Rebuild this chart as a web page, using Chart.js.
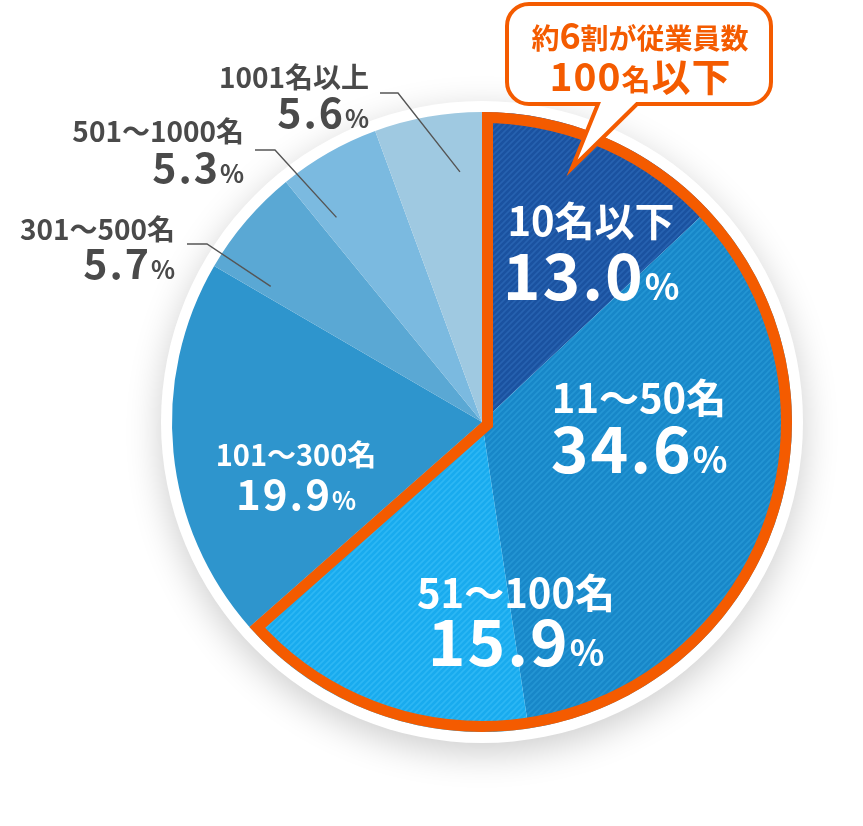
<!DOCTYPE html>
<html>
<head>
<meta charset="utf-8">
<script src="https://cdn.jsdelivr.net/npm/chart.js@4/dist/chart.umd.min.js"></script>
<style>
html,body{margin:0;padding:0;background:#fff;}
#wrap{position:relative;width:863px;height:826px;}
canvas{display:block;}
</style>
</head>
<body>
<div id="wrap"><canvas id="c" width="863" height="826"></canvas></div>
<script>
// ---- data ----
const categories = ['10名以下', '11〜50名', '51〜100名', '101〜300名', '301〜500名', '501〜1000名', '1001名以上'];
const shares = [13.0, 34.6, 15.9, 19.9, 5.7, 5.3, 5.6];
const highlightCount = 3; // slices grouped by the orange outline (100名以下)
const calloutLine1 = [['約', 'n'], ['6', 'b'], ['割が従業員数', 'n']];
const calloutLine2 = [['100', 'b'], ['名', 'n'], ['以下', 'b']];

// ---- styles ----
const FONT = '"Noto Sans CJK JP", "Noto Sans", sans-serif';
const ORANGE = '#f45b00';
const DARK = '#4a4a4a';
const baseColors = ['#1b52a0', '#1887c8', '#19abee', '#2e95cd', '#5aa8d4', '#7bbae0', '#9fc9e1'];
const stripeColors = ['#2762b0', '#2495d3', '#2db7f4', null, null, null, null];

function stripe(base, line) {
  const c = document.createElement('canvas');
  c.width = c.height = 6;
  const x = c.getContext('2d');
  x.fillStyle = base; x.fillRect(0, 0, 6, 6);
  x.strokeStyle = line; x.lineWidth = 1.6;
  x.beginPath();
  x.moveTo(-1, 7); x.lineTo(7, -1);
  x.moveTo(-1, 1); x.lineTo(1, -1);
  x.moveTo(5, 7); x.lineTo(7, 5);
  x.stroke();
  return x.createPattern(c, 'repeat');
}
const fills = baseColors.map((b, i) => stripeColors[i] ? stripe(b, stripeColors[i]) : b);

// label layout, offsets relative to pie centre (px)
const inLabels = {
  0: {dx: 109, name: -186, val: -122, nameSize: 40, valSize: 64, pctSize: 36},
  1: {dx: 157, name: -9, val: 51, nameSize: 40, valSize: 64, pctSize: 36},
  2: {dx: 34, name: 186, val: 244, nameSize: 40, valSize: 64, pctSize: 36},
  3: {dx: -186, name: 44, val: 88, nameSize: 29, valSize: 42, pctSize: 25}
};
const outLabels = {
  6: {x: 369, name: 88, val: 128, ex: 398, ey: 93, lx: 380, frac: 0.75},
  5: {x: 244, name: 142, val: 183, ex: 275, ey: 150, lx: 255, frac: 0.2},
  4: {x: 175, name: 240, val: 279, ex: 207, ey: 244, lx: 187, frac: 0.12}
};

function drawRuns(ctx, runs, x, y, align, color, spacing) {
  ctx.save();
  ctx.fillStyle = color;
  ctx.textBaseline = 'alphabetic';
  ctx.textAlign = 'left';
  let total = 0;
  const widths = runs.map(r => {
    ctx.font = 'bold ' + r[1] + 'px ' + FONT;
    const w = ctx.measureText(r[0]).width + (spacing || 0) * r[0].length;
    total += w; return w;
  });
  total -= (spacing || 0);
  let cx = align === 'center' ? x - total / 2 : (align === 'right' ? x - total : x);
  runs.forEach((r, i) => {
    ctx.font = 'bold ' + r[1] + 'px ' + FONT;
    if (spacing) {
      for (const ch of r[0]) { ctx.fillText(ch, cx, y); cx += ctx.measureText(ch).width + spacing; }
    } else { ctx.fillText(r[0], cx, y); cx += widths[i]; }
  });
  ctx.restore();
}

function pct(v) { return v.toFixed(1); }

const decor = {
  id: 'decor',
  beforeDatasetsDraw(chart) {
    const arc = chart.getDatasetMeta(0).data[0];
    const ctx = chart.ctx;
    ctx.save();
    ctx.shadowColor = 'rgba(0,0,0,0.20)';
    ctx.shadowBlur = 36;
    ctx.shadowOffsetY = 10;
    ctx.fillStyle = '#fff';
    ctx.beginPath();
    ctx.arc(arc.x, arc.y, arc.outerRadius + 11, 0, Math.PI * 2);
    ctx.fill();
    ctx.restore();
  },
  afterDatasetsDraw(chart) {
    const ctx = chart.ctx;
    const arcs = chart.getDatasetMeta(0).data;
    const cx = arcs[0].x, cy = arcs[0].y, R = arcs[0].outerRadius;
    // orange outline around the highlighted group (inner stroke)
    const a0 = arcs[0].startAngle, a1 = arcs[highlightCount - 1].endAngle;
    ctx.save();
    ctx.beginPath();
    ctx.moveTo(cx, cy);
    ctx.arc(cx, cy, R, a0, a1);
    ctx.closePath();
    ctx.clip();
    ctx.lineWidth = 22;
    ctx.lineJoin = 'miter';
    ctx.strokeStyle = ORANGE;
    ctx.stroke();
    ctx.restore();

    // inside labels
    Object.keys(inLabels).forEach(k => {
      const L = inLabels[k];
      drawRuns(ctx, [[categories[k], L.nameSize]], cx + L.dx, cy + L.name, 'center', '#fff');
      drawRuns(ctx, [[pct(shares[k]), L.valSize], ['%', L.pctSize]], cx + L.dx, cy + L.val, 'center', '#fff', 2);
    });

    // outside labels with leader lines
    Object.keys(outLabels).forEach(k => {
      const L = outLabels[k];
      const a = arcs[k].startAngle + (arcs[k].endAngle - arcs[k].startAngle) * L.frac;
      const px = cx + Math.cos(a) * R * 0.81, py = cy + Math.sin(a) * R * 0.81;
      ctx.save();
      ctx.strokeStyle = '#555';
      ctx.lineWidth = 1.4;
      ctx.beginPath();
      ctx.moveTo(L.lx, L.ey); ctx.lineTo(L.ex, L.ey); ctx.lineTo(px, py);
      ctx.stroke();
      ctx.restore();
      drawRuns(ctx, [[categories[k], 28]], L.x, L.name, 'right', DARK);
      drawRuns(ctx, [[pct(shares[k]), 41], ['%', 25]], L.x, L.val, 'right', DARK, 2);
    });

    // callout bubble
    const bx = 507, by = 4, bw = 264, bh = 100, rr = 22;
    const tl = 598, tr = 637, tipx = 572, tipy = 168;
    ctx.save();
    ctx.beginPath();
    ctx.moveTo(bx + rr, by);
    ctx.lineTo(bx + bw - rr, by);
    ctx.arcTo(bx + bw, by, bx + bw, by + rr, rr);
    ctx.lineTo(bx + bw, by + bh - rr);
    ctx.arcTo(bx + bw, by + bh, bx + bw - rr, by + bh, rr);
    ctx.lineTo(tr, by + bh);
    ctx.lineTo(tipx, tipy);
    ctx.lineTo(tl, by + bh);
    ctx.lineTo(bx + rr, by + bh);
    ctx.arcTo(bx, by + bh, bx, by + bh - rr, rr);
    ctx.lineTo(bx, by + rr);
    ctx.arcTo(bx, by, bx + rr, by, rr);
    ctx.closePath();
    ctx.fillStyle = '#fff';
    ctx.fill();
    ctx.lineWidth = 4;
    ctx.lineJoin = 'miter';
    ctx.strokeStyle = ORANGE;
    ctx.stroke();
    ctx.restore();
    const midx = bx + bw / 2 + 1;
    drawRuns(ctx, calloutLine1.map(r => [r[0], r[1] === 'b' ? 36 : 28]), midx, 49, 'center', ORANGE);
    drawRuns(ctx, calloutLine2.map(r => [r[0], r[1] === 'b' ? 39 : 29]), midx, 91, 'center', ORANGE, 1);
  }
};

new Chart(document.getElementById('c'), {
  type: 'pie',
  data: {
    labels: categories,
    datasets: [{data: shares, backgroundColor: fills, borderWidth: 0, radius: 310}]
  },
  options: {
    responsive: false,
    animation: false,
    events: [],
    layout: {padding: {left: 112, right: 11, top: 22, bottom: 4}},
    plugins: {legend: {display: false}, tooltip: {enabled: false}}
  },
  plugins: [decor]
});
</script>
</body>
</html>
